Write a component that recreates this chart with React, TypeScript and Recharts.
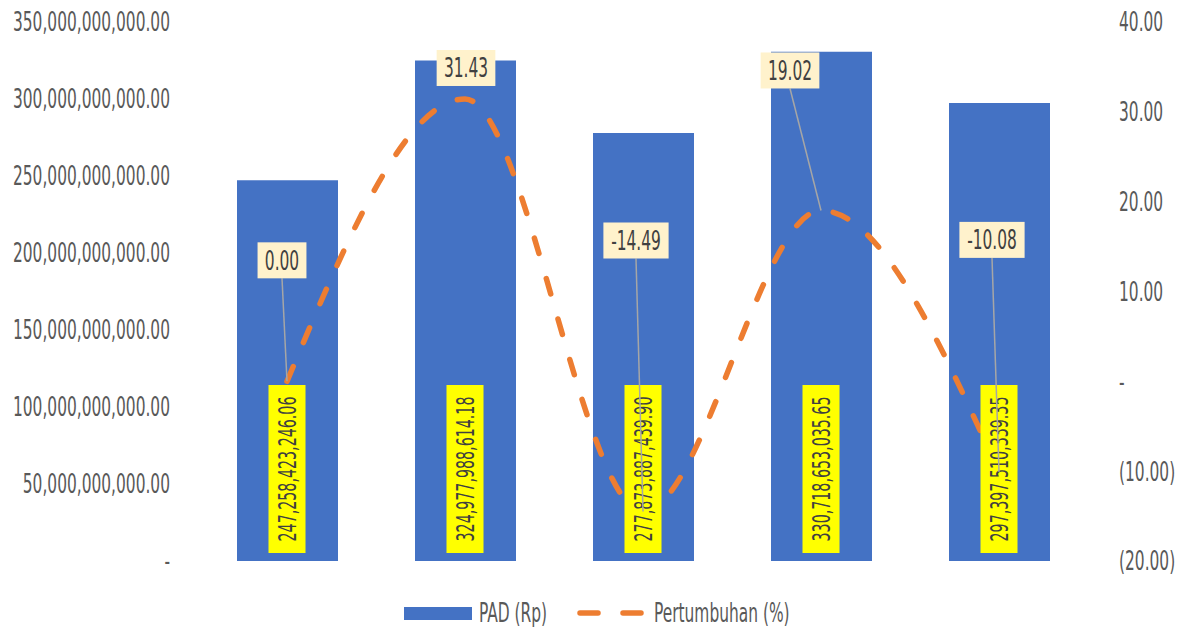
import { ComposedChart, Bar, Line, XAxis, YAxis, Legend, LabelList } from 'recharts'

const categories = ['1', '2', '3', '4', '5']
const padValues = [247258423246.06, 324977988614.18, 277873887439.9, 330718653035.65, 297397510339.35]
const growthValues = [0.0, 31.43, -14.49, 19.02, -10.08]
const leftTicks = [0, 50e9, 100e9, 150e9, 200e9, 250e9, 300e9, 350e9]
const rightTicks = [-20, -10, 0, 10, 20, 30, 40]

// where Excel's growth labels were dragged to, relative to their point
const growthLabelNudge = [
  { dx: -5, dy: -121 },
  { dx: 1, dy: -31 },
  { dx: -7, dy: -271 },
  { dx: -31, dy: -140 },
  { dx: -7, dy: -232 },
]

const FONT = "'Liberation Sans Narrow', 'DejaVu Sans Condensed', 'Roboto', sans-serif"
const SQUEEZE = 0.66
const TEXT = '#595959'
const BLUE = '#4472C4'
const ORANGE = '#ED7D31'

const chartData = categories.map((c, i) => ({
  name: c,
  pad: padValues[i],
  growth: growthValues[i],
}))

const fmtMoney = (v: number) =>
  v.toLocaleString('en-US', { minimumFractionDigits: 2, maximumFractionDigits: 2 })

const fmtLeft = (v: number) => (v === 0 ? '-' : fmtMoney(v))
const fmtRight = (v: number) => {
  if (v === 0) return '-'
  const s = Math.abs(v).toFixed(2)
  return v < 0 ? `(${s})` : s
}

// narrow text, to get close to the tall condensed face of the original
function Squeezed({ x, y, anchor, children, size = 26, fill = TEXT, rotate = 0 }: any) {
  return (
    <g transform={`translate(${x},${y}) rotate(${rotate})`}>
      <text
        transform={`scale(${SQUEEZE},1)`}
        textAnchor={anchor}
        dy="0.36em"
        fontSize={size}
        fontFamily={FONT}
        fill={fill}
      >
        {children}
      </text>
    </g>
  )
}

const LeftTick = ({ x, y, payload }: any) => (
  <Squeezed x={x} y={y} anchor="end">{fmtLeft(payload.value)}</Squeezed>
)

const RightTick = ({ x, y, payload }: any) => (
  <Squeezed x={x} y={y} anchor="start">{fmtRight(payload.value)}</Squeezed>
)

// yellow vertical tag sitting at the foot of each bar
const PadTag = (props: any) => {
  const { x, y, index } = props
  if (x == null || y == null) return null
  const w = 37
  const h = 168
  const bottom = y - 8
  return (
    <g>
      <rect x={x - w / 2} y={bottom - h} width={w} height={h} fill="#FFFF00" />
      <Squeezed x={x} y={bottom - h / 2} anchor="middle" rotate={-90} size={24} fill="#404040">
        {fmtMoney(padValues[index])}
      </Squeezed>
    </g>
  )
}

const GrowthTag = (props: any) => {
  const { x, y, index } = props
  if (x == null || y == null) return null
  const text = growthValues[index].toFixed(2)
  const nudge = growthLabelNudge[index]
  const cx = x + nudge.dx
  const cy = y + nudge.dy
  const tw = text.split('').reduce((s, ch) => s + (ch === '.' ? 5.5 : ch === '-' ? 6.5 : 9.8), 0)
  const w = tw + 14
  const h = 36
  return (
    <g>
      {Math.abs(nudge.dy) > 50 && (
        <line x1={cx} y1={cy + h / 2} x2={x} y2={y} stroke="#A6A6A6" strokeWidth={1.5} />
      )}
      <rect x={cx - w / 2} y={cy - h / 2} width={w} height={h} fill="#FFF2CC" />
      <Squeezed x={cx} y={cy} anchor="middle" fill="#404040">{text}</Squeezed>
    </g>
  )
}

const LegendBox = () => (
  <div style={{ display: 'flex', alignItems: 'center', height: 32, paddingLeft: 404 }}>
    <svg width={400} height={32}>
      <rect x={0} y={11} width={68} height={13} fill={BLUE} />
      <Squeezed x={75} y={17} anchor="start">PAD (Rp)</Squeezed>
      <line x1={176} y1={17} x2={238} y2={17} stroke={ORANGE} strokeWidth={5.5} strokeLinecap="round" strokeDasharray="18 25" />
      <Squeezed x={250} y={17} anchor="start">Pertumbuhan (%)</Squeezed>
    </svg>
  </div>
)

export default function App() {
  return (
    <div style={{ position: 'absolute', left: 0, top: 0, background: '#fff' }}>
      <ComposedChart
        width={1181}
        height={627}
        data={chartData}
        margin={{ top: 22, right: 0, bottom: 34, left: 0 }}
      >
        <XAxis dataKey="name" height={0} tick={false} tickLine={false} axisLine={{ stroke: '#D9D9D9' }} />
        <YAxis
          yAxisId="left"
          width={198}
          domain={[0, 350e9]}
          ticks={leftTicks}
          tick={<LeftTick />}
          tickLine={false}
          axisLine={false}
          tickSize={0}
          tickMargin={28}
        />
        <YAxis
          yAxisId="right"
          orientation="right"
          width={93}
          domain={[-20, 40]}
          ticks={rightTicks}
          tick={<RightTick />}
          tickLine={false}
          axisLine={false}
          tickSize={0}
          tickMargin={31}
        />
        <Legend
          verticalAlign="bottom"
          height={32}
          content={<LegendBox />}
          wrapperStyle={{ left: 0, width: 1181, top: 596 }}
        />
        <Bar yAxisId="left" dataKey="pad" name="PAD (Rp)" fill={BLUE} barSize={101} isAnimationActive={false} />
        <Line
          yAxisId="right"
          dataKey="growth"
          name="Pertumbuhan (%)"
          type="monotone"
          stroke={ORANGE}
          strokeWidth={5.5}
          strokeLinecap="round"
          strokeDasharray="16 26"
          dot={false}
          activeDot={false}
          isAnimationActive={false}
        />
        {/* invisible helper line pinned to zero, carries the yellow value tags above the orange line */}
        <Line
          yAxisId="left"
          dataKey={() => 0}
          stroke="none"
          dot={false}
          activeDot={false}
          legendType="none"
          isAnimationActive={false}
        >
          <LabelList content={<PadTag />} />
        </Line>
        <Line
          yAxisId="right"
          dataKey="growth"
          stroke="none"
          dot={false}
          activeDot={false}
          legendType="none"
          isAnimationActive={false}
        >
          <LabelList content={<GrowthTag />} />
        </Line>
      </ComposedChart>
    </div>
  )
}
